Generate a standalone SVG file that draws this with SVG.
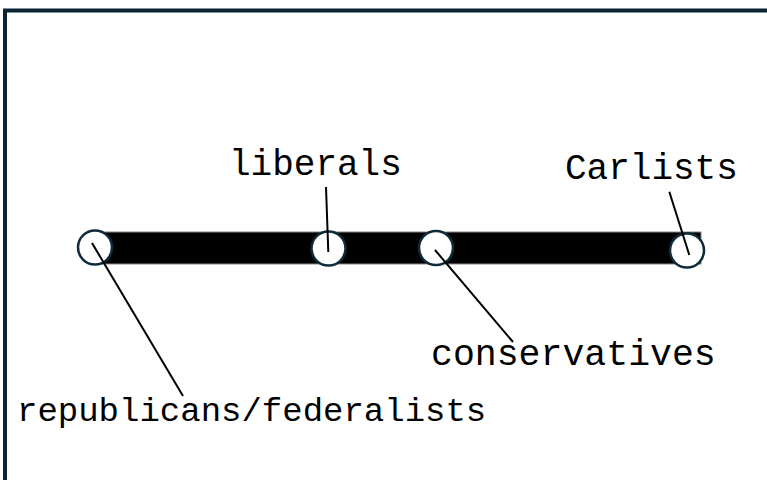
<svg xmlns="http://www.w3.org/2000/svg" width="767" height="480" viewBox="0 0 767 480">
<style>
.lbl{font-family:"Liberation Mono","Courier New",monospace;fill:#000}
.node{fill:#fff;stroke:#0d2b3a;stroke-width:2.5}
.lead{stroke:#000;stroke-width:2;fill:none}
</style>
<rect x="0" y="0" width="767" height="480" fill="#fff"/>
<rect x="5" y="10.5" width="800" height="500" fill="none" stroke="#0b2535" stroke-width="4"/>
<g id="bar"><rect x="93" y="232" width="608" height="32" fill="#000" stroke="#888" stroke-width="1"/></g>
<g id="n-republicans"><circle class="node" cx="95" cy="247.5" r="17"/><text class="lbl" x="17" y="421" font-size="34">republicans/federalists</text></g>
<g id="n-liberals"><circle class="node" cx="328.5" cy="248.5" r="17"/><text class="lbl" x="229" y="175" font-size="36">liberals</text></g>
<g id="n-conservatives"><circle class="node" cx="436" cy="248" r="17"/><text class="lbl" x="431" y="365" font-size="36.5">conservatives</text></g>
<g id="n-carlists"><circle class="node" cx="687" cy="250.5" r="17"/><text class="lbl" x="565" y="179" font-size="36">Carlists</text></g>
<g id="connectors">
<line class="lead" x1="92" y1="243" x2="183" y2="396"/>
<line class="lead" x1="326" y1="187" x2="328.3" y2="252"/>
<line class="lead" x1="435" y1="250" x2="513" y2="342"/>
<line class="lead" x1="669.3" y1="191.7" x2="689.3" y2="255"/>
</g>
</svg>
